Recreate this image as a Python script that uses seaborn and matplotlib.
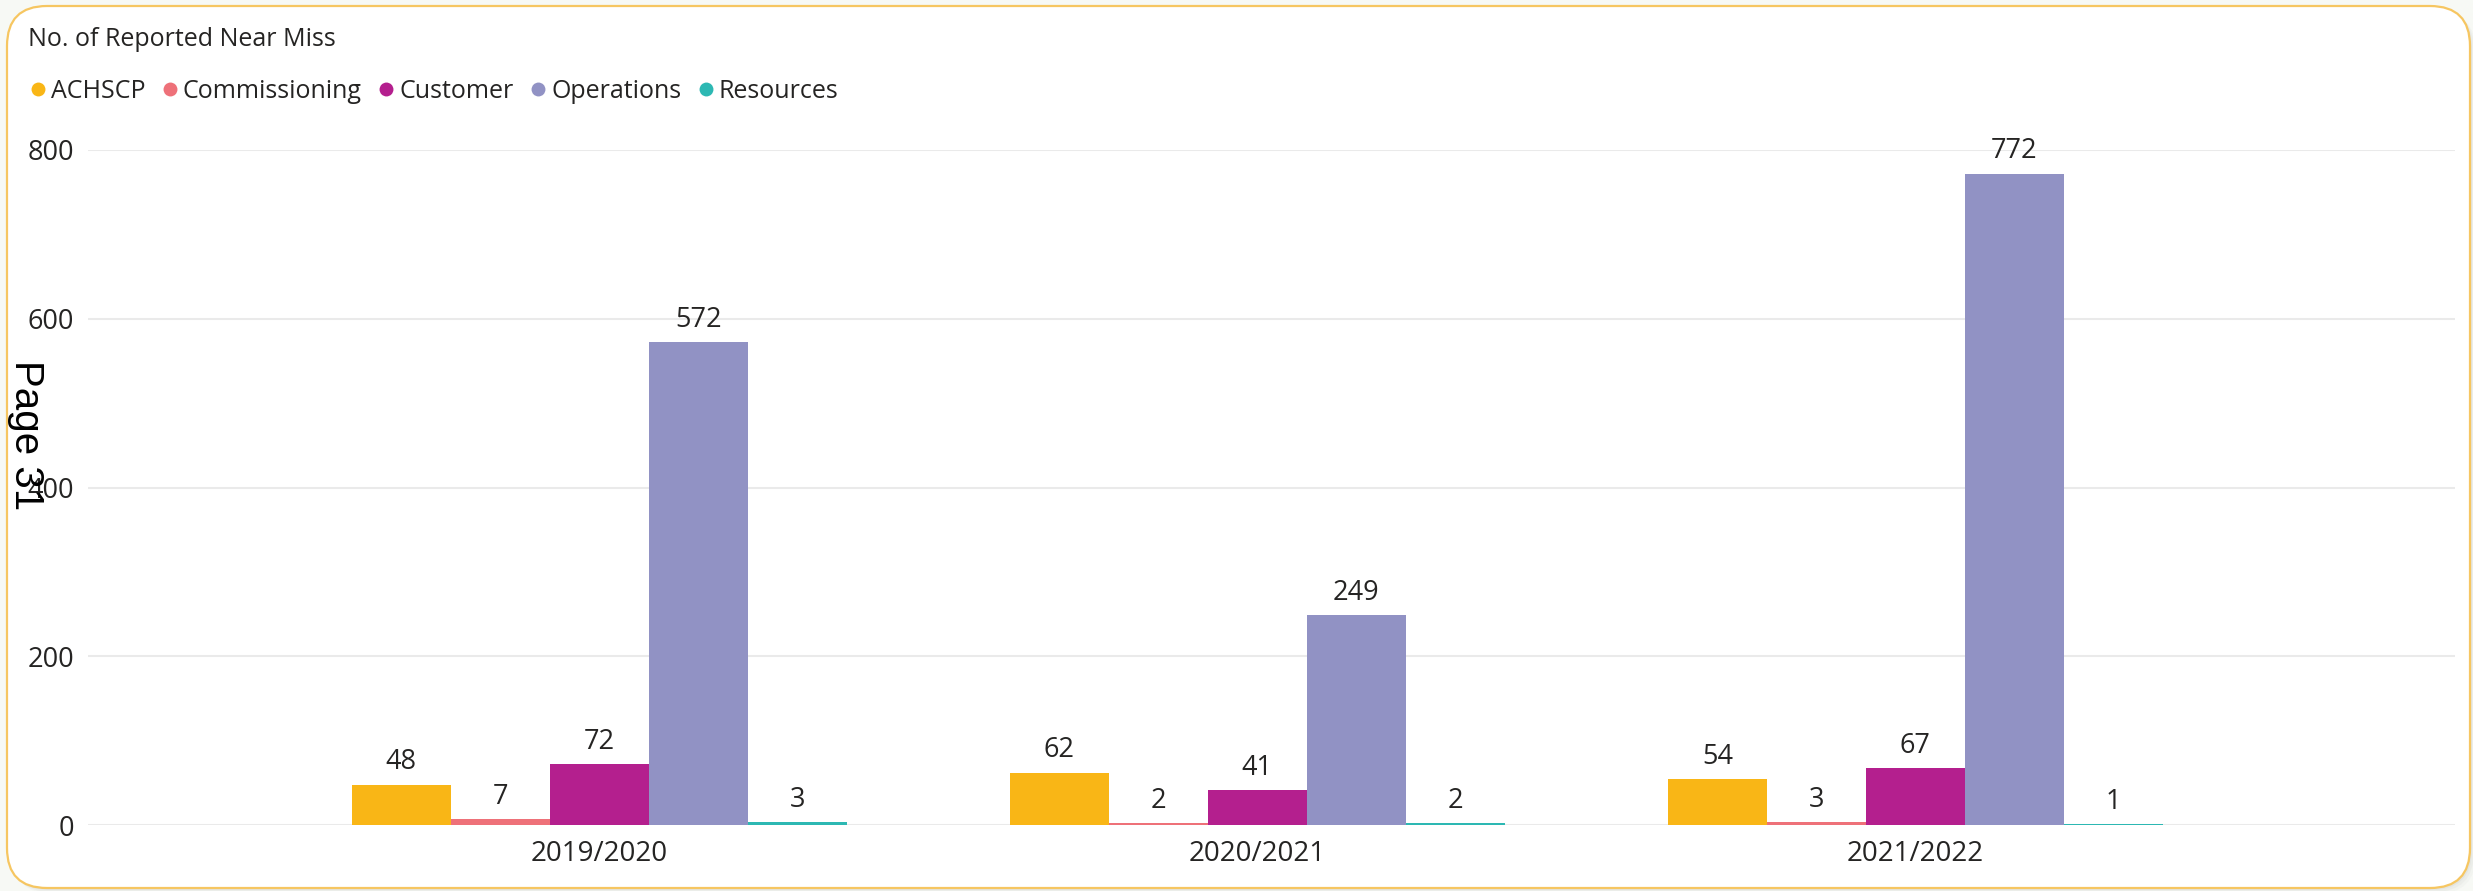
import matplotlib
matplotlib.use("Agg")
import matplotlib.pyplot as plt
from matplotlib.lines import Line2D
from matplotlib.patches import FancyBboxPatch
import seaborn as sns
import pandas as pd

# Near-miss counts by department and financial year
years = ["2019/2020", "2020/2021", "2021/2022"]
departments = ["ACHSCP", "Commissioning", "Customer", "Operations", "Resources"]
achscp = [48, 62, 54]
commissioning = [7, 2, 3]
customer = [72, 41, 67]
operations = [572, 249, 772]
resources = [3, 2, 1]
colors = ["#F9B616", "#EE7179", "#B41F8E", "#9192C4", "#2DB8B3"]
y_ticks = [0, 200, 400, 600, 800]

series = [achscp, commissioning, customer, operations, resources]
df = pd.DataFrame(
    [(y, d, vals[i]) for d, vals in zip(departments, series) for i, y in enumerate(years)],
    columns=["Year", "Department", "Count"],
)

sns.set_theme(style="white")
plt.rcParams["font.family"] = ["Open Sans", "DejaVu Sans"]
TEXT = "#252423"
FS = 18
FS_NUM = 19.5

W, H = 2473, 891
fig = plt.figure(figsize=(W / 100, H / 100), dpi=100)
fig.patch.set_facecolor("#F7F9F5")

# card background with soft shadow and rounded border
for off, a in [(6, 0.05), (4, 0.07), (2, 0.09)]:
    fig.patches.append(FancyBboxPatch(
        ((7 + off) / 100, (3 - off) / 100), 2463 / 100, 882 / 100,
        boxstyle="round,pad=0,rounding_size=0.40", transform=fig.dpi_scale_trans,
        facecolor="#9a9a9a", edgecolor="none", alpha=a, zorder=-3))
fig.patches.append(FancyBboxPatch(
    (7 / 100, 3 / 100), 2463 / 100, 882 / 100,
    boxstyle="round,pad=0,rounding_size=0.40", transform=fig.dpi_scale_trans,
    facecolor="white", edgecolor="#F6C661", linewidth=1.6, zorder=-2))

ax = fig.add_axes([88 / W, 66 / H, (2455 - 88) / W, (825 - 150) / H])
ax.set_facecolor("none")

sns.barplot(data=df, x="Year", y="Count", hue="Department", hue_order=departments,
            order=years, palette=colors, width=0.752, errorbar=None, gap=0,
            saturation=1, linewidth=0, ax=ax, legend=False)

for cont in ax.containers:
    ax.bar_label(cont, padding=6, fontsize=FS_NUM, color=TEXT)

ax.set_xlim(-0.777, 2.82)
ax.set_ylim(0, 800)
ax.set_yticks(y_ticks)
ax.yaxis.grid(True, color="#EAEAEA", linewidth=1.5)
ax.set_axisbelow(True)
for s in ax.spines.values():
    s.set_visible(False)
ax.tick_params(axis="y", length=0, pad=10, labelsize=FS_NUM, labelcolor=TEXT)
ax.tick_params(axis="x", length=0, pad=11, labelsize=20, labelcolor=TEXT)
ax.set_xlabel("")
ax.set_ylabel("")

fig.text(28 / W, 1 - 40 / H, "No. of Reported Near Miss", fontsize=FS,
         color=TEXT, va="center", ha="left")

handles = [Line2D([0], [0], marker="o", linestyle="none", markersize=10,
                  markerfacecolor=c, markeredgecolor="none") for c in colors]
fig.legend(handles, departments, loc="center left",
           bbox_to_anchor=(31 / W, 1 - 91 / H), ncol=5, frameon=False,
           fontsize=FS, labelcolor=TEXT, handlelength=0.55, handletextpad=0.25,
           columnspacing=0.7, borderpad=0, borderaxespad=0)

fig.text(26 / W, 1 - 435 / H, "Page 31", rotation=-90, fontsize=29,
         family="Liberation Sans", color="black", ha="center", va="center")

fig.savefig("out.png", dpi=100, facecolor=fig.get_facecolor())
